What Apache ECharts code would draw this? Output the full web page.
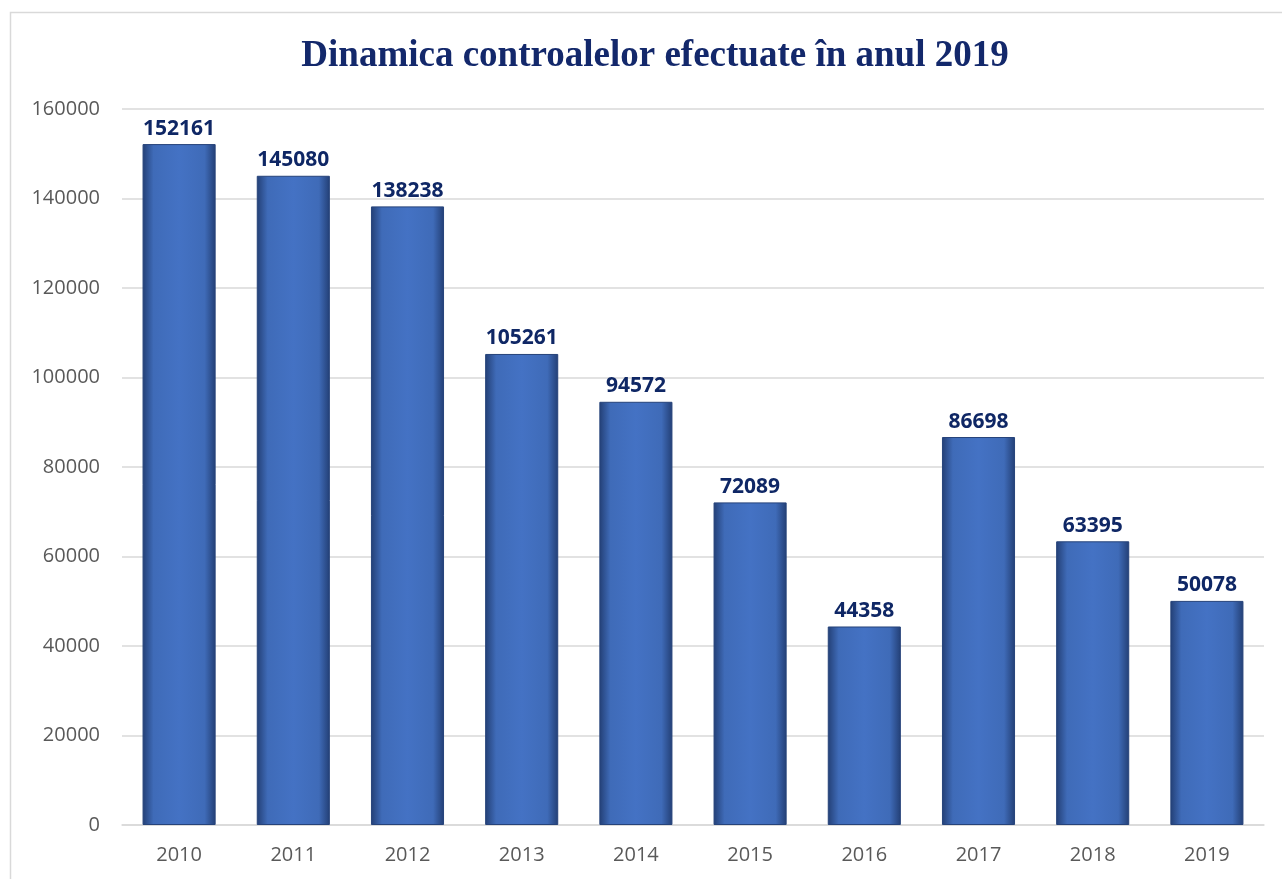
<!DOCTYPE html>
<html>
<head>
<meta charset="utf-8">
<script src="https://cdn.jsdelivr.net/npm/echarts@6/dist/echarts.min.js"></script>
<style>
  html, body { margin: 0; padding: 0; background: #fff; }
  #chart { width: 1282px; height: 879px; }
</style>
</head>
<body>
<div id="chart"></div>
<script>
const years = ['2010', '2011', '2012', '2013', '2014', '2015', '2016', '2017', '2018', '2019']
const controale = [152161, 145080, 138238, 105261, 94572, 72089, 44358, 86698, 63395, 50078]

const chart = echarts.init(document.getElementById('chart'))

// bara cu margini mai închise (imită umbra interioară)
const barColor = new echarts.graphic.LinearGradient(0, 0, 1, 0, [
  { offset: 0, color: '#233f75' },
  { offset: 0.15, color: '#3f6bb8' },
  { offset: 0.5, color: '#4472C4' },
  { offset: 0.85, color: '#3f6bb8' },
  { offset: 1, color: '#233f75' }
])

const option = {
  animation: false,
  graphic: [{
    type: 'rect',
    shape: { x: 10.5, y: 12.5, width: 1400, height: 1000 },
    style: { fill: 'none', stroke: '#d9d9d9', lineWidth: 1.5 },
    z: -1
  }],
  title: {
    text: 'Dinamica controalelor efectuate în anul 2019',
    left: 650,
    top: 33,
    textAlign: 'center',
    textStyle: {
      fontFamily: 'Liberation Serif',
      fontWeight: 'bold',
      fontSize: 37,
      color: '#13286b'
    }
  },
  grid: {
    left: 122,
    right: 18,
    top: 109,
    bottom: 54
  },
  xAxis: {
    type: 'category',
    data: years,
    axisLine: { show: true, lineStyle: { color: '#d9d9d9', width: 1.5 } },
    axisTick: { show: false },
    axisLabel: {
      color: '#595959',
      fontSize: 20,
      fontFamily: 'Open Sans',
      margin: 20
    }
  },
  yAxis: {
    type: 'value',
    min: 0,
    max: 160000,
    interval: 20000,
    axisLine: { show: false },
    axisTick: { show: false },
    splitLine: { lineStyle: { color: '#d9d9d9', width: 1.5 } },
    axisLabel: {
      color: '#595959',
      fontSize: 20,
      fontFamily: 'Open Sans',
      margin: 22,
      formatter: (v) => String(v)
    }
  },
  series: [{
    name: 'Controale',
    type: 'bar',
    barWidth: '64%',
    data: controale,
    itemStyle: {
      color: barColor,
      borderColor: '#26437a',
      borderWidth: 1
    },
    label: {
      show: true,
      position: 'top',
      distance: 5,
      color: '#0f2765',
      fontSize: 21,
      fontWeight: 'bold',
      fontFamily: 'Open Sans'
    }
  }]
}
chart.setOption(option, true)
</script>
</body>
</html>
